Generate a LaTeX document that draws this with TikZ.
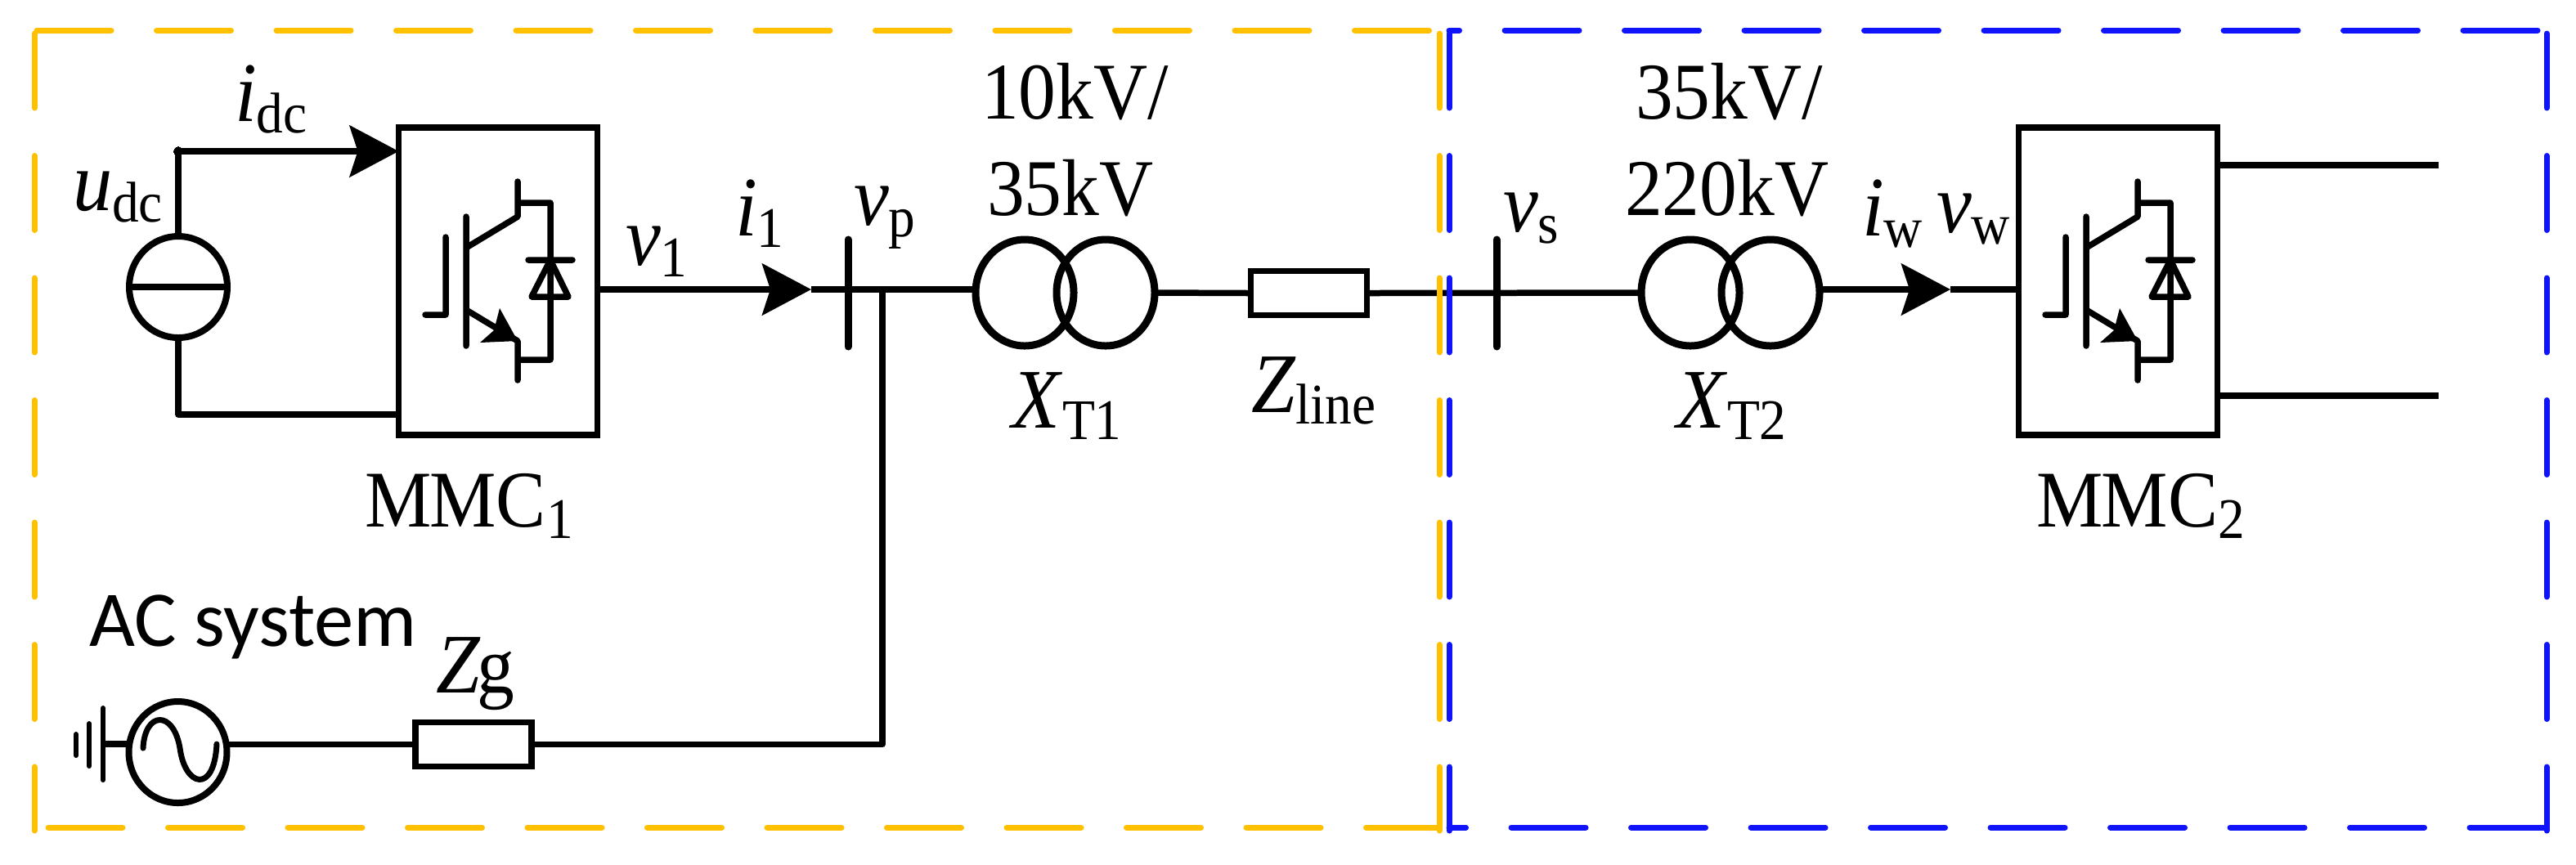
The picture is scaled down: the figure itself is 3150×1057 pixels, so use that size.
\documentclass[tikz,border=0pt]{standalone}
\usepackage{fontspec}
\setmainfont[FakeStretch=0.93]{Liberation Serif}
\newfontfamily\acfont{Carlito}
\usetikzlibrary{calc, arrows.meta, shapes.geometric}

\definecolor{zoneorange}{HTML}{FFC000}
\definecolor{zoneblue}{HTML}{0F14FA}
\newcommand{\sublbl}[1]{\raisebox{-4pt}{\fontsize{20}{20}\selectfont #1}}
\newcommand{\varlbl}[1]{{\fontsize{29.5}{29.5}\selectfont\textit{#1}}}

\tikzset{
  every node/.style={outer sep=0, inner sep=0},
  wire/.style={line width=.75mm, line join=round},
  flow/.style={wire, -{Stealth[length=6mm, width=6.3mm, inset=1mm]}},
  busbar/.style={line width=.9mm, line cap=round},
  conv/.style={draw, line width=.75mm, minimum width=24.3mm, minimum height=37.6mm},
  winding/.style={draw, ellipse, line width=.9mm, minimum width=12mm, minimum height=13mm},
  imped/.style={draw, line width=.75mm, minimum width=14.2mm, minimum height=5.4mm},
  lbl/.style={anchor=base west, font=\fontsize{28}{28}\selectfont},
  hzone/.style={line width=.7mm, line cap=round, dash pattern=on 9.1mm off 5.55mm},
  vzone/.style={line width=.7mm, line cap=round, dash pattern=on 9.1mm off 5.85mm},
  pics/igbt/.style={code={
    \draw[line width=.75mm, line cap=round, line join=round]
      (24,-122) -- (24,-79) -- (-39,-41)
      (24,-96) -- (64,-96) -- (64,96) -- (24,96)
      (24,121) -- (24,73) -- (-39,35)
      (-39,-79) -- (-39,79)
      (-64,-54) -- (-64,41) -- (-89,41)
      (37,-26) -- (91,-26)
      (64,-26) -- (41,19) -- (86,19) -- cycle;
    \fill (24,73) -- (2,33) -- (-5,60) -- (-22,75) -- cycle;
  }}
}

\begin{document}
\begin{tikzpicture}[x=.1mm, y=-.1mm]
  \useasboundingbox (0,0) rectangle (3150,1057);

  % converters
  \node[conv] (mmc1) at (609,344) {};
  \node[conv] (mmc2) at (2590,344) {};
  \pic at (mmc1.center) {igbt};
  \pic at (mmc2.center) {igbt};

  % dc side
  \node[draw, ellipse, line width=.8mm, minimum width=12mm, minimum height=12.4mm] (udc) at (218,351) {};
  \node[draw, circle, fill, minimum size=1.1mm, line width=0] (dcp) at (218,185) {};
  \draw[wire] (udc.west) -- (udc.east);
  \draw[wire] (udc.north) -- (dcp.center);
  \draw[flow] (dcp.center) -- (mmc1.west|-dcp);
  \draw[wire] (udc.south) |- (mmc1.west|-0,507);

  % ac line
  \coordinate (i1tip) at (992,354);
  \coordinate (jct) at (1079,354);
  \coordinate (busptop) at (1037,293);
  \coordinate (buspbot) at (1037,424);
  \coordinate (bussstop) at (1830,293);
  \coordinate (bussbot) at (1830,424);
  \coordinate (iwtip) at (2385,354);
  \node[winding] (t1l) at (1253,358) {};
  \node[winding] (t1r) at (1352,358) {};
  \node[winding] (t2l) at (2067,358) {};
  \node[winding] (t2r) at (2165,358) {};
  \node[imped] (zline) at (1600.5,358.5) {};
  \node[imped] (zg) at (579,910.5) {};
  \draw[flow] (mmc1.east|-i1tip) -- (i1tip);
  \draw[wire] (i1tip) -- (t1l.west|-i1tip);
  \draw[busbar] (busptop) -- (buspbot);
  \draw[busbar] (bussstop) -- (bussbot);
  \draw[wire] (t1r.east) -- (zline.west);
  \draw[wire] (zline.east) -- (t2l.west);
  \draw[flow] (t2r.east|-iwtip) -- (iwtip);
  \draw[wire] (iwtip) -- (mmc2.west|-iwtip);
  \draw[wire] (zg.east) -| (jct);

  % ac system
  \node[draw, ellipse, line width=.8mm, minimum width=12mm, minimum height=12.4mm] (acs) at (217.5,920) {};
  \coordinate (gnd) at (126,910);
  \draw[wire] (zg.west) -- (acs.east|-zg.west);
  \draw[wire] (acs.west|-gnd) -- (gnd);
  \draw[line width=.6mm, line cap=round] (126,866) -- (126,954) (109,885) -- (109,937) (93,898) -- (93,924);
  \draw[line width=.7mm, line cap=round] (175,915) .. controls (177,870) and (212,868) .. (220,915) .. controls (226,962) and (262,972) .. (265,910);

  % dc lines of the second converter
  \coordinate (out1) at (2982,202);
  \coordinate (out2) at (2982,484);
  \draw[wire] (mmc2.east|-out1) -- (out1);
  \draw[wire] (mmc2.east|-out2) -- (out2);

  % labels
  \node[lbl] (lidc) at (287,148) {\varlbl{i}\sublbl{dc}};
  \node[lbl] (ludc) at (89,257) {\varlbl{u}\sublbl{dc}};
  \node[lbl] (lv1) at (765,324) {\varlbl{v}\sublbl{1}};
  \node[lbl] (li1) at (899,288) {\varlbl{i}\sublbl{1}};
  \node[lbl] (lvp) at (1044,275) {\varlbl{v}\sublbl{p}};
  \node[lbl] (lvs) at (1838,283) {\varlbl{v}\sublbl{s}};
  \node[lbl] (liw) at (2277,288) {\varlbl{i}\sublbl{w}};
  \node[lbl] (lvw) at (2368,284) {\varlbl{v}\sublbl{w}};
  \node[lbl] (lm1) at (446,644) {M\kern-.5pt MC\sublbl{1}};
  \node[lbl] (lm2) at (2490,644) {M\kern-.5pt MC\sublbl{2}};
  \node[lbl] (lv11) at (1200,145) {10kV/};
  \node[lbl] (lv12) at (1207,263) {35kV};
  \node[lbl] (lv21) at (2000,145) {35kV/};
  \node[lbl] (lv22) at (1987,263) {220kV};
  \node[lbl] (lx1) at (1237,523) {\varlbl{X}\sublbl{T1}};
  \node[lbl] (lx2) at (2050,523) {\varlbl{X}\sublbl{T2}};
  \node[lbl] (lzl) at (1530,504) {\varlbl{Z}\sublbl{line}};
  \node[lbl] (lzg) at (533,847) {\varlbl{Z}\kern-1pt g};
  \node[lbl, font=\fontsize{27.5}{27.5}\selectfont\acfont] (lac) at (109,790) {AC system};

  % zones
  \draw[hzone, zoneorange] (45,37) -- (1758,37);
  \draw[vzone, zoneorange] (42,41) -- (42,1016);
  \draw[hzone, zoneorange] (59,1012) -- (1758,1012);
  \draw[vzone, zoneorange] (1760,41) -- (1760,1016);
  \draw[hzone, zoneblue] (3103,37) -- (1772,37);
  \draw[vzone, zoneblue] (1772,41) -- (1772,1016);
  \draw[hzone, zoneblue] (3111,1012) -- (1772,1012);
  \draw[vzone, zoneblue] (3114,41) -- (3114,1016);
\end{tikzpicture}
\end{document}
